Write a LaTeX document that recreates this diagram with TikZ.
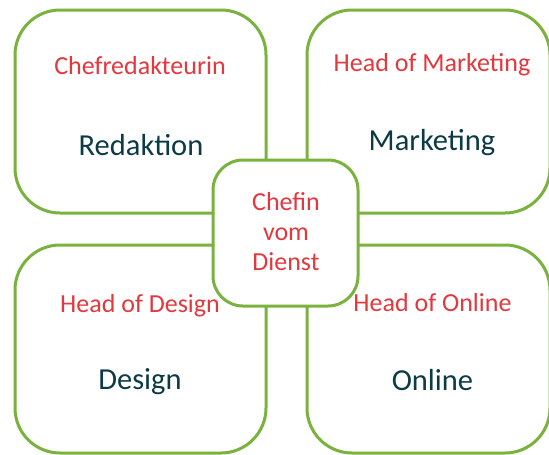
\documentclass[tikz,border=0pt]{standalone}
\usepackage{fontspec}
\setmainfont{Carlito}
\definecolor{grn}{RGB}{122,178,62}
\definecolor{redt}{RGB}{226,56,62}
\definecolor{dark}{RGB}{12,59,70}
\tikzset{
  box/.style={draw=grn, line width=3pt, fill=white, rounded corners=45pt},
  cbox/.style={draw=grn, line width=3pt, fill=white, rounded corners=30pt},
  role/.style={anchor=base, text=redt, font=\fontsize{26}{30}\selectfont, inner sep=0pt},
  dept/.style={anchor=base, text=dark, font=\fontsize{30.5}{34}\selectfont, inner sep=0pt},
}
\begin{document}
\begin{tikzpicture}[x=1pt,y=-1pt]
\useasboundingbox (0,0) rectangle (549,455);
\draw[box] (15,10) rectangle (266,213);
\draw[box] (307,10) rectangle (550,213);
\draw[box] (15,245) rectangle (266,453);
\draw[box] (307,245) rectangle (550,453);
\draw[cbox] (213,160) rectangle (358,306);
\node[role] (r1) at (140,74) {Chefredakteurin};
\node[dept] (d1) at (141,155) {Redaktion};
\node[role] (r2) at (432,71) {Head of Marketing};
\node[dept] (d2) at (432,150) {Marketing};
\node[role] (r3) at (140,312) {Head of Design};
\node[dept] (d3) at (140,389) {Design};
\node[role] (r4) at (432.5,311) {Head of Online};
\node[dept] (d4) at (432.5,390) {Online};
\node[role] (c1) at (286,210) {Chefin};
\node[role] (c2) at (286,240) {vom};
\node[role] (c3) at (286,270) {Dienst};
\end{tikzpicture}
\end{document}
